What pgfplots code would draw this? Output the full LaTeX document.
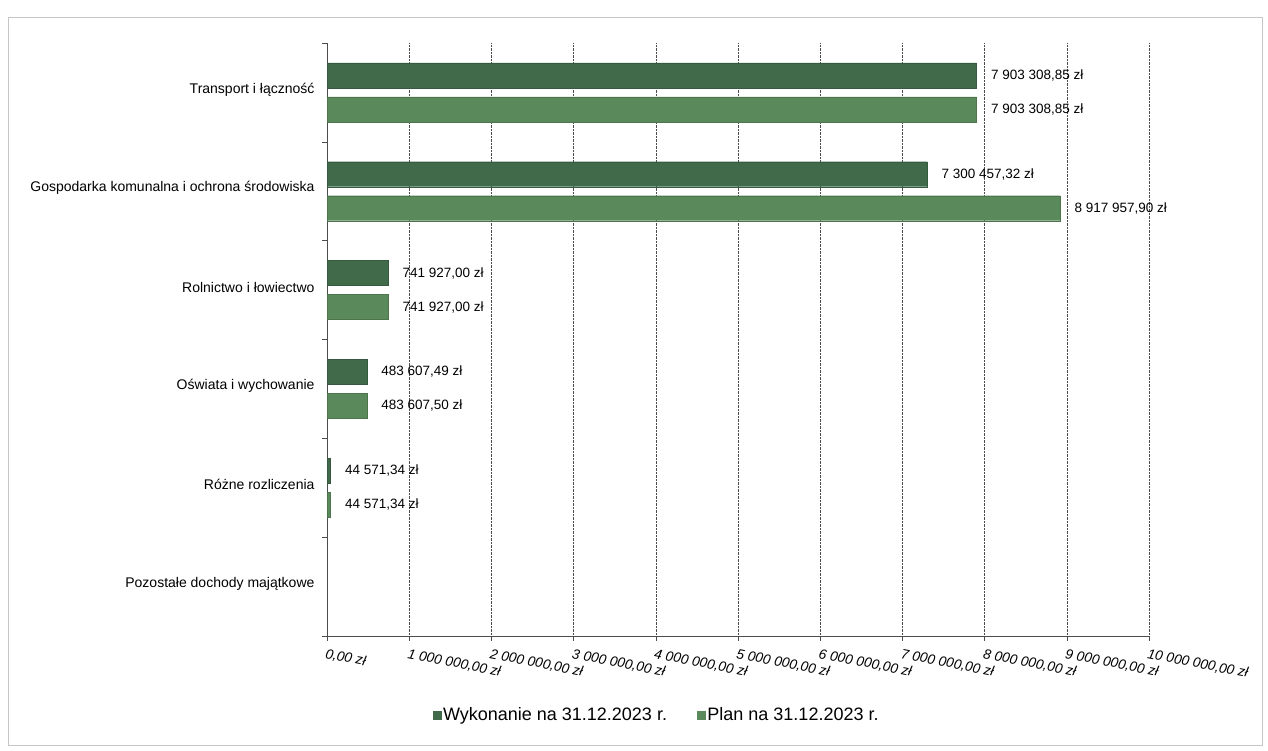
\documentclass[border=0pt]{standalone}
\usepackage{pgfplots}
\usepackage{pgfplotstable}
\pgfplotsset{compat=1.18}
\usepackage{fontspec}
\setmainfont{Liberation Sans}
\definecolor{wyk}{RGB}{64,106,74}
\definecolor{plan}{RGB}{90,138,92}
\pgfplotstableread[col sep=semicolon]{
y;x;lab
5;7903308.85;7 903 308,85 zł
4;7300457.32;7 300 457,32 zł
3;741927.00;741 927,00 zł
2;483607.49;483 607,49 zł
1;44571.34;44 571,34 zł
}\wyk
\pgfplotstableread[col sep=semicolon]{
y;x;lab
5;7903308.85;7 903 308,85 zł
4;8917957.90;8 917 957,90 zł
3;741927.00;741 927,00 zł
2;483607.50;483 607,50 zł
1;44571.34;44 571,34 zł
}\plan
\begin{document}
\begin{tikzpicture}[x=1pt,y=1pt]
\fill[white] (0,0) rectangle (1268,751);
\draw[gray!45, line width=0.7pt] (8,6) rectangle (1262,734);
\begin{axis}[
  at={(327pt,115pt)}, anchor=south west,
  width=822pt, height=593pt, scale only axis,
  xmin=0, xmax=10000000, ymin=-0.5, ymax=5.5,
  axis x line*=bottom, axis y line*=left,
  axis line style={-, gray!60!black, line width=0.6pt},
  scaled x ticks=false,
  xtick={0,1000000,2000000,3000000,4000000,5000000,6000000,7000000,8000000,9000000,10000000},
  xticklabels={{0,00 zł},{1 000 000,00 zł},{2 000 000,00 zł},{3 000 000,00 zł},{4 000 000,00 zł},{5 000 000,00 zł},{6 000 000,00 zł},{7 000 000,00 zł},{8 000 000,00 zł},{9 000 000,00 zł},{10 000 000,00 zł}},
  x tick label style={rotate=-11, anchor=north west, font=\itshape\fontsize{13.8}{15}\selectfont, inner sep=1pt, yshift=-6pt, xshift=0pt},
  xmajorgrids,
  grid style={gray!60!black, densely dotted, line width=0.6pt},
  tick align=outside, major tick length=5pt,
  tick style={gray!60!black, line width=0.6pt},
  ytick={-0.5,0.5,1.5,2.5,3.5,4.5,5.5},
  yticklabels={},
  extra y ticks={0,1,2,3,4,5},
  extra y tick labels={Pozostałe dochody majątkowe,Różne rozliczenia,Oświata i wychowanie,Rolnictwo i łowiectwo,Gospodarka komunalna i ochrona środowiska,Transport i łączność},
  extra y tick style={major tick length=0pt, y tick label style={font=\fontsize{14}{16}\selectfont, xshift=-9pt, yshift=3pt}},
  legend style={at={(0.401,-0.133)}, anchor=center, draw=none, fill=none,
    font=\fontsize{18}{20}\selectfont, legend columns=2,
    /tikz/every even column/.append style={column sep=28pt}},
]
\addplot[xbar, bar width=25pt, bar shift=17pt, fill=wyk, draw=wyk!85!black,
  legend image code/.code={\fill[wyk] (0pt,-4pt) rectangle (8pt,4pt);},
  nodes near coords, point meta=explicit symbolic,
  every node near coord/.append style={anchor=west, xshift=11pt, yshift=17pt, font=\fontsize{13.5}{15}\selectfont, text=black}]
  table[x=x, y=y, meta=lab] {\wyk};
\addlegendentry{Wykonanie na 31.12.2023 r.}
\addplot[xbar, bar width=25pt, bar shift=-17pt, fill=plan, draw=plan!85!black,
  legend image code/.code={\fill[plan] (0pt,-4pt) rectangle (8pt,4pt);},
  nodes near coords, point meta=explicit symbolic,
  every node near coord/.append style={anchor=west, xshift=11pt, yshift=-17pt, font=\fontsize{13.5}{15}\selectfont, text=black}]
  table[x=x, y=y, meta=lab] {\plan};
\addlegendentry{Plan na 31.12.2023 r.}
\end{axis}
\end{tikzpicture}
\end{document}
